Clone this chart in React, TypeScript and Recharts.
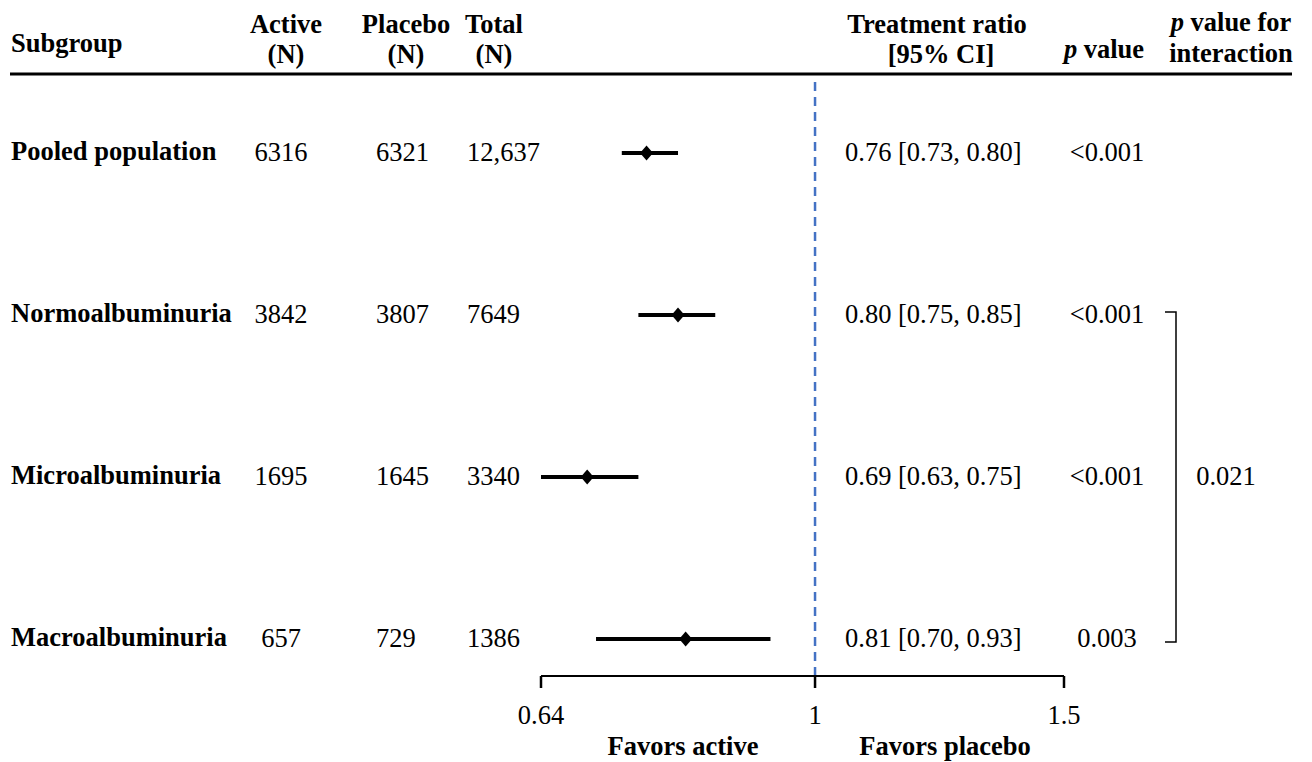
import React from 'react';
import { ScatterChart, Scatter, ErrorBar, XAxis, YAxis, ReferenceLine, Customized } from 'recharts';

// Subgroup table
const subgroups = ['Pooled population', 'Normoalbuminuria', 'Microalbuminuria', 'Macroalbuminuria'];
const activeN = [6316, 3842, 1695, 657];
const placeboN = [6321, 3807, 1645, 729];
const totalN = [12637, 7649, 3340, 1386];
const ratio = [0.76, 0.8, 0.69, 0.81];
const ciLow = [0.73, 0.75, 0.63, 0.7];
const ciHigh = [0.8, 0.85, 0.75, 0.93];
const pValues = ['<0.001', '<0.001', '<0.001', '0.003'];
const interactionP = '0.021';
const interactionRows = [1, 3];
const xTicks = [0.64, 1, 1.5];

const FONT = '"Liberation Serif", "Times New Roman", serif';
const FS = 26.5;

const W = 1312;
const H = 762;
const PLOT_LEFT = 541;
const PLOT_RIGHT = 1064;
const PLOT_TOP = 76;
const PLOT_BOTTOM = 676;
const Y_DOMAIN: [number, number] = [-0.475, 3.228];
const CLIP_ID = 'forest-plot-area';

const rows = subgroups.map((name, i) => ({
  row: i,
  name,
  ratio: ratio[i],
  err: [ratio[i] - ciLow[i], ciHigh[i] - ratio[i]],
}));

const fmtN = (n: number) => (n >= 10000 ? n.toLocaleString('en-US') : String(n));
const fmtCI = (i: number) => `${ratio[i].toFixed(2)} [${ciLow[i].toFixed(2)}, ${ciHigh[i].toFixed(2)}]`;

// vertical position of a table row (same mapping as the y axis)
const rowY = (v: number) =>
  PLOT_TOP + ((v - Y_DOMAIN[0]) / (Y_DOMAIN[1] - Y_DOMAIN[0])) * (PLOT_BOTTOM - PLOT_TOP);

function RowTick(props: any) {
  const i = props.payload.value as number;
  const y = props.y as number;
  return (
    <g fontFamily={FONT} fontSize={FS} fill="#000">
      <text x={11} y={y + 7} fontWeight="bold" fill="#000">{subgroups[i]}</text>
      <text x={281} y={y + 8} textAnchor="middle" fill="#000">{fmtN(activeN[i])}</text>
      <text x={376} y={y + 8} fill="#000">{fmtN(placeboN[i])}</text>
      <text x={467} y={y + 8} fill="#000">{fmtN(totalN[i])}</text>
      <text x={845} y={y + 8} fill="#000">{fmtCI(i)}</text>
      <text x={1107} y={y + 8} textAnchor="middle" fill="#000">{pValues[i]}</text>
    </g>
  );
}

function Diamond(props: any) {
  const { cx, cy } = props;
  const hw = 6.5;
  const hh = 7.5;
  return (
    <polygon
      points={`${cx - hw},${cy} ${cx},${cy - hh} ${cx + hw},${cy} ${cx},${cy + hh}`}
      fill="#000"
    />
  );
}

function Annotations() {
  const yTop = rowY(interactionRows[0]);
  const yBot = rowY(interactionRows[1]);
  const yMid = (yTop + yBot) / 2;
  return (
    <g fontFamily={FONT} fontSize={FS} fill="#000">
      <defs>
        <clipPath id={CLIP_ID}>
          <rect x={PLOT_LEFT} y={PLOT_TOP} width={PLOT_RIGHT - PLOT_LEFT} height={PLOT_BOTTOM - PLOT_TOP} />
        </clipPath>
      </defs>
      <g fontWeight="bold">
        <text x={11} y={52}>Subgroup</text>
        <text x={286} y={33} textAnchor="middle">Active</text>
        <text x={286} y={63} textAnchor="middle">(N)</text>
        <text x={406} y={33} textAnchor="middle">Placebo</text>
        <text x={406} y={63} textAnchor="middle">(N)</text>
        <text x={494} y={33} textAnchor="middle">Total</text>
        <text x={494} y={63} textAnchor="middle">(N)</text>
        <text x={937} y={33} textAnchor="middle">Treatment ratio</text>
        <text x={941} y={63} textAnchor="middle">[95% CI]</text>
        <text x={1104} y={58} textAnchor="middle">
          <tspan fontStyle="italic">p</tspan> value
        </text>
        <text x={1231} y={31} textAnchor="middle">
          <tspan fontStyle="italic">p</tspan> value for
        </text>
        <text x={1231} y={62} textAnchor="middle">interaction</text>
        <text x={683} y={755} textAnchor="middle">Favors active</text>
        <text x={945} y={755} textAnchor="middle">Favors placebo</text>
      </g>
      <line x1={10} x2={1292} y1={74} y2={74} stroke="#000" strokeWidth={3} />
      <path
        d={`M1165,${yTop - 3} H1176 V${yBot + 3} H1165`}
        fill="none"
        stroke="#000"
        strokeWidth={1.5}
      />
      <text x={1226} y={yMid + 8} textAnchor="middle">{interactionP}</text>
    </g>
  );
}

export default function App() {
  return (
    <div style={{ position: 'absolute', left: 0, top: 0, width: W, height: H, background: '#fff' }}>
      <ScatterChart
        width={W}
        height={H}
        margin={{ top: PLOT_TOP, right: W - PLOT_RIGHT, bottom: 0, left: PLOT_LEFT - 1 }}
      >
        <XAxis
          type="number"
          dataKey="ratio"
          scale="log"
          domain={[0.64, 1.5]}
          allowDataOverflow
          ticks={xTicks}
          interval={0}
          tickFormatter={(v: number) => String(v)}
          height={H - PLOT_BOTTOM}
          tickSize={12}
          tickMargin={17}
          axisLine={{ stroke: '#000', strokeWidth: 2 }}
          tickLine={{ stroke: '#000', strokeWidth: 2.5 }}
          tick={{ fill: '#000', fontSize: FS, fontFamily: FONT }}
        />
        <YAxis
          type="number"
          dataKey="row"
          domain={Y_DOMAIN}
          reversed
          allowDataOverflow
          ticks={[0, 1, 2, 3]}
          interval={0}
          width={1}
          axisLine={false}
          tickLine={false}
          tick={(p: any) => <RowTick {...p} />}
        />
        <ReferenceLine x={1} stroke="#4472C4" strokeWidth={2.5} strokeDasharray="9 6" />
        <Customized component={<Annotations />} />
        <Scatter data={rows} fill="#000" shape={(p: any) => <Diamond {...p} />} isAnimationActive={false}>
          <ErrorBar
            dataKey="err"
            direction="x"
            width={0}
            strokeWidth={4}
            stroke="#000"
            clipPath={`url(#${CLIP_ID})`}
          />
        </Scatter>
      </ScatterChart>
    </div>
  );
}
